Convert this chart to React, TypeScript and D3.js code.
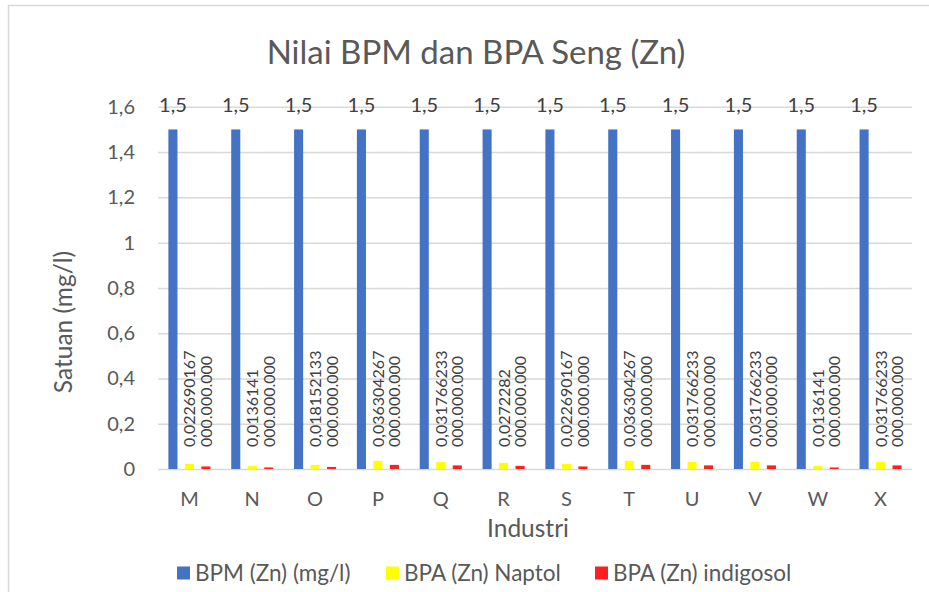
import React, { useRef, useEffect } from "react";
import { select, scaleBand, scaleLinear, axisLeft, axisBottom } from "d3";

const categories = ["M", "N", "O", "P", "Q", "R", "S", "T", "U", "V", "W", "X"];
const bpm = [1.5, 1.5, 1.5, 1.5, 1.5, 1.5, 1.5, 1.5, 1.5, 1.5, 1.5, 1.5];
const naptol = [
  0.022690167, 0.0136141, 0.018152133, 0.036304267, 0.031766233, 0.0272282,
  0.022690167, 0.036304267, 0.031766233, 0.031766233, 0.0136141, 0.031766233,
];
// bars are only a few pixels tall
const indigosol = [
  0.0113, 0.0068, 0.0091, 0.0182, 0.0159, 0.0136, 0.0113, 0.0182, 0.0159,
  0.0159, 0.0068, 0.0159,
];
const naptolLabels = [
  "0,022690167", "0,0136141", "0,018152133", "0,036304267", "0,031766233",
  "0,0272282", "0,022690167", "0,036304267", "0,031766233", "0,031766233",
  "0,0136141", "0,031766233",
];
const labelTail = "000.000.000";
const yTicks = [0, 0.2, 0.4, 0.6, 0.8, 1, 1.2, 1.4, 1.6];
const seriesNames = ["BPM (Zn) (mg/l)", "BPA (Zn) Naptol", "BPA (Zn) indigosol"];
const seriesColors = ["#4472c4", "#ffff00", "#ff1f1f"];

const FONT = "Lato, 'Open Sans', sans-serif";
const TEXT = "#595959";

function Chart() {
  const svgRef = useRef(null);
  useEffect(() => {
    const svg = select(svgRef.current);
    svg.selectAll("*").remove();
    const left = 158,
      right = 912,
      top = 106.8,
      bottom = 469;

    const x = scaleBand().domain(categories).range([left, right]).padding(0);
    const xSub = scaleBand()
      .domain(["bpm", "naptol", "indigosol"])
      .range([0, x.bandwidth()])
      .paddingInner(0.45)
      .paddingOuter(0.63);
    const y = scaleLinear().domain([0, 1.6]).range([bottom, top]);

    // chart border (only top/left visible in the crop)
    svg
      .append("path")
      .attr("d", "M8.5,600 L8.5,5.5 L940,5.5")
      .attr("fill", "none")
      .attr("stroke", "#d9d9d9")
      .attr("stroke-width", 1.5);

    svg
      .append("text")
      .text("Nilai BPM dan BPA Seng (Zn)")
      .attr("x", 476)
      .attr("y", 64)
      .attr("text-anchor", "middle")
      .style("font", `33px ${FONT}`)
      .attr("fill", TEXT);

    // gridlines
    const gy = svg
      .append("g")
      .attr("transform", `translate(${left},0)`)
      .call(
        axisLeft(y)
          .tickValues(yTicks)
          .tickSize(-(right - left))
          .tickFormat((d) => String(d).replace(".", ","))
      );
    gy.select(".domain").remove();
    gy.selectAll(".tick line").attr("stroke", "#d9d9d9").attr("stroke-width", 1.5);
    gy.selectAll(".tick text")
      .attr("x", -23)
      .attr("fill", TEXT)
      .style("font", `20px ${FONT}`);

    const gx = svg
      .append("g")
      .attr("transform", `translate(0,${bottom})`)
      .call(axisBottom(x).tickSize(0));
    gx.select(".domain").remove();
    gx.selectAll(".tick text")
      .attr("y", 37)
      .attr("dy", 0)
      .attr("fill", TEXT)
      .style("font", `20px ${FONT}`);

    const rows = categories.map((c, i) => ({
      c,
      bpm: bpm[i],
      naptol: naptol[i],
      indigosol: indigosol[i],
      label: naptolLabels[i],
    }));

    const keys = ["bpm", "naptol", "indigosol"];
    keys.forEach((k, ki) => {
      svg
        .append("g")
        .selectAll("rect")
        .data(rows)
        .join("rect")
        .attr("x", (d) => x(d.c) + xSub(k))
        .attr("width", xSub.bandwidth())
        .attr("y", (d) => y(d[k]))
        .attr("height", (d) => y(0) - y(d[k]))
        .attr("fill", seriesColors[ki]);
    });

    // value labels on top of BPM bars
    svg
      .append("g")
      .selectAll("text")
      .data(rows)
      .join("text")
      .text((d) => String(d.bpm).replace(".", ","))
      .attr("x", (d) => x(d.c) + xSub("bpm") + xSub.bandwidth() / 2)
      .attr("y", (d) => y(d.bpm) - 17)
      .attr("text-anchor", "middle")
      .attr("fill", "#404040")
      .style("font", `20px ${FONT}`);

    // rotated labels of Naptol series
    const lab = svg.append("g").selectAll("g").data(rows).join("g");
    lab
      .append("text")
      .text((d) => d.label)
      .attr("transform", (d) => {
        const cx = x(d.c) + xSub("naptol") + xSub.bandwidth() / 2;
        return `translate(${cx + 6},${y(0) - 22}) rotate(-90)`;
      })
      .attr("fill", "#404040")
      .style("font", `16px ${FONT}`);
    lab
      .append("text")
      .text(labelTail)
      .attr("transform", (d) => {
        const cx = x(d.c) + xSub("indigosol") + xSub.bandwidth() / 2;
        return `translate(${cx + 6},${y(0) - 22}) rotate(-90)`;
      })
      .attr("fill", "#404040")
      .style("font", `16px ${FONT}`);

    // axis titles
    svg
      .append("text")
      .text("Industri")
      .attr("x", 528)
      .attr("y", 537)
      .attr("text-anchor", "middle")
      .attr("fill", TEXT)
      .style("font", `24.5px ${FONT}`);
    svg
      .append("text")
      .text("Satuan (mg/l)")
      .attr("transform", "translate(72,322) rotate(-90)")
      .attr("text-anchor", "middle")
      .attr("fill", TEXT)
      .style("font", `24.5px ${FONT}`);

    // legend
    const legendX = [177, 386, 595];
    const lg = svg
      .append("g")
      .selectAll("g")
      .data(seriesNames)
      .join("g")
      .attr("transform", (d, i) => `translate(${legendX[i]},573)`);
    lg.append("rect")
      .attr("x", 0)
      .attr("y", -6.5)
      .attr("width", 13)
      .attr("height", 13)
      .attr("fill", (d, i) => seriesColors[i]);
    lg.append("text")
      .text((d) => d)
      .attr("x", 18)
      .attr("y", 7.5)
      .attr("fill", TEXT)
      .style("font", `22.5px ${FONT}`);
  }, []);

  return (
    <svg
      ref={svgRef}
      width={929}
      height={592}
      style={{ position: "fixed", left: 0, top: 0, background: "white" }}
    ></svg>
  );
}

export default function App() {
  return <Chart />;
}
